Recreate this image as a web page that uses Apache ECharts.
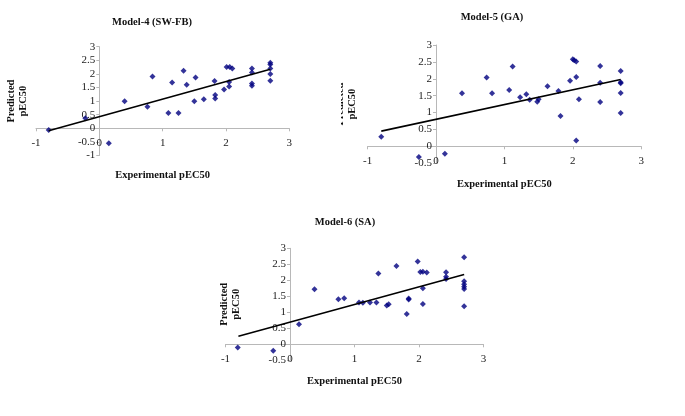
<!DOCTYPE html>
<html><head><meta charset="utf-8">
<script src="https://cdn.jsdelivr.net/npm/echarts@6/dist/echarts.min.js"></script>
<style>html,body{margin:0;padding:0;background:#fff}#c{width:685px;height:416px}</style>
</head><body><div id="c"></div>
<script>
// Model-4 (SW-FB)
const m4X = [-0.80,-0.22,0.15,0.40,0.76,0.84,1.09,1.15,1.25,1.33,1.38,1.50,1.52,1.65,1.82,1.83,1.83,1.97,2.01,2.06,2.10,2.05,2.05,2.41,2.41,2.41,2.41,2.70,2.70,2.70,2.70,2.70];
const m4Y = [-0.06,0.37,-0.55,0.99,0.79,1.90,0.56,1.68,0.56,2.12,1.60,0.99,1.87,1.07,1.74,1.22,1.10,1.43,2.25,2.25,2.20,1.70,1.54,2.20,2.05,1.65,1.56,2.41,2.35,2.20,2.00,1.75];
const m4TrendX = [-0.80, 2.70];
const m4TrendY = [-0.09, 2.17];
// Model-5 (GA)
const m5X = [-0.80,-0.25,0.13,0.38,0.74,0.82,1.07,1.12,1.23,1.32,1.37,1.48,1.50,1.63,1.79,1.82,1.96,2.00,2.02,2.05,2.05,2.09,2.05,2.40,2.40,2.40,2.70,2.70,2.70,2.70,2.70];
const m5Y = [0.28,-0.32,-0.22,1.57,2.04,1.57,1.67,2.36,1.45,1.54,1.38,1.32,1.39,1.78,1.64,0.90,1.94,2.58,2.55,2.51,2.05,1.39,0.17,2.38,1.88,1.31,2.23,1.90,1.87,1.58,0.99];
const m5TrendX = [-0.80, 2.70];
const m5TrendY = [0.45, 1.98];
// Model-6 (SA)
const m6X = [-0.81,-0.26,0.14,0.38,0.75,0.84,1.07,1.13,1.24,1.34,1.37,1.50,1.53,1.65,1.81,1.84,1.84,1.98,2.02,2.06,2.12,2.06,2.06,2.42,2.42,2.42,2.70,2.70,2.70,2.70,2.70,2.70];
const m6Y = [-0.10,-0.20,0.63,1.72,1.41,1.44,1.31,1.30,1.31,1.31,2.21,1.21,1.25,2.45,0.95,1.43,1.40,2.59,2.26,2.27,2.24,1.75,1.26,2.25,2.11,2.04,2.72,1.97,1.88,1.80,1.73,1.19];
const m6TrendX = [-0.80, 2.70];
const m6TrendY = [0.25, 2.18];

const titles = ['Model-4 (SW-FB)', 'Model-5 (GA)', 'Model-6 (SA)'];
const xName = 'Experimental pEC50';
const yName = 'Predicted\npEC50';

const pair = (xs, ys) => xs.map((x, i) => [x, ys[i]]);
const FONT = 'Liberation Serif';
const axisLineStyle = {color: '#b8b8b8', width: 1};

// grids: [left, top, width, height, yMin]
const G = [
  [36, 46.7, 253.3, 108.8, -1],
  [367.6, 45, 273.6, 118.2, -0.5],
  [225.5, 248.3, 258, 112, -0.5]
];
// offset (px) from grid edge to the zero line of the other axis
const xOff = G.map(g => -g[3] * (0 - g[4]) / (3 - g[4]));
const yOff = G.map(g => -g[2] * 1 / 4);

function xAxis(gi, gap) {
  return {
    type: 'value', gridIndex: gi, min: -1, max: 3, interval: 1, position: 'bottom', offset: xOff[gi],
    axisLine: {show: true, onZero: false, lineStyle: axisLineStyle},
    axisTick: {show: true, length: 3, lineStyle: axisLineStyle},
    splitLine: {show: false},
    axisLabel: {color: '#222', fontFamily: FONT, fontSize: 11, margin: 9},
    name: xName, nameLocation: 'middle', nameGap: gap,
    nameTextStyle: {fontFamily: FONT, fontWeight: 'bold', fontSize: 10.5, color: '#111'}
  };
}
function yAxis(gi, gap) {
  return {
    type: 'value', gridIndex: gi, min: G[gi][4], max: 3, interval: 0.5, position: 'left', offset: yOff[gi],
    axisLine: {show: true, onZero: false, lineStyle: axisLineStyle},
    axisTick: {show: true, length: 3, lineStyle: axisLineStyle},
    splitLine: {show: false},
    axisLabel: {color: '#222', fontFamily: FONT, fontSize: 11, margin: 4},
    name: yName, nameLocation: 'middle', nameGap: gap, nameRotate: 90,
    nameTextStyle: {fontFamily: FONT, fontWeight: 'bold', fontSize: 10.5, color: '#111', lineHeight: 12}
  };
}
function scatter(i, xs, ys) {
  return {type: 'scatter', xAxisIndex: i, yAxisIndex: i, data: pair(xs, ys),
    symbol: 'diamond', symbolSize: 6, itemStyle: {color: '#000080'}, silent: true, z: 3};
}
function trend(i, xs, ys) {
  return {type: 'line', xAxisIndex: i, yAxisIndex: i, data: pair(xs, ys),
    symbol: 'none', lineStyle: {color: '#000', width: 1.6}, silent: true, z: 4};
}

const chart = echarts.init(document.getElementById('c'), null, {renderer: 'canvas'});
const titleStyle = {fontFamily: FONT, fontWeight: 'bold', fontSize: 10.5, color: '#111'};
chart.setOption({
  animation: false,
  backgroundColor: '#fff',
  title: [
    {text: titles[0], left: 147, top: 12, textAlign: 'center', textStyle: titleStyle},
    {text: titles[1], left: 487, top: 7, textAlign: 'center', textStyle: titleStyle},
    {text: titles[2], left: 340, top: 212, textAlign: 'center', textStyle: titleStyle}
  ],
  grid: G.map(g => ({left: g[0], top: g[1], width: g[2], height: g[3], containLabel: false, outerBoundsMode: 'none'})),
  xAxis: [xAxis(0, 41), xAxis(1, 32), xAxis(2, 31)],
  yAxis: [yAxis(0, 70), yAxis(1, 78), yAxis(2, 48)],
  series: [
    scatter(0, m4X, m4Y), trend(0, m4TrendX, m4TrendY),
    scatter(1, m5X, m5Y), trend(1, m5TrendX, m5TrendY),
    scatter(2, m6X, m6Y), trend(2, m6TrendX, m6TrendY)
  ],
  graphic: [
    {type: 'rect', shape: {x: 300, y: 50, width: 41, height: 100}, style: {fill: '#fff'}, z: 100}
  ]
});
</script></body></html>
